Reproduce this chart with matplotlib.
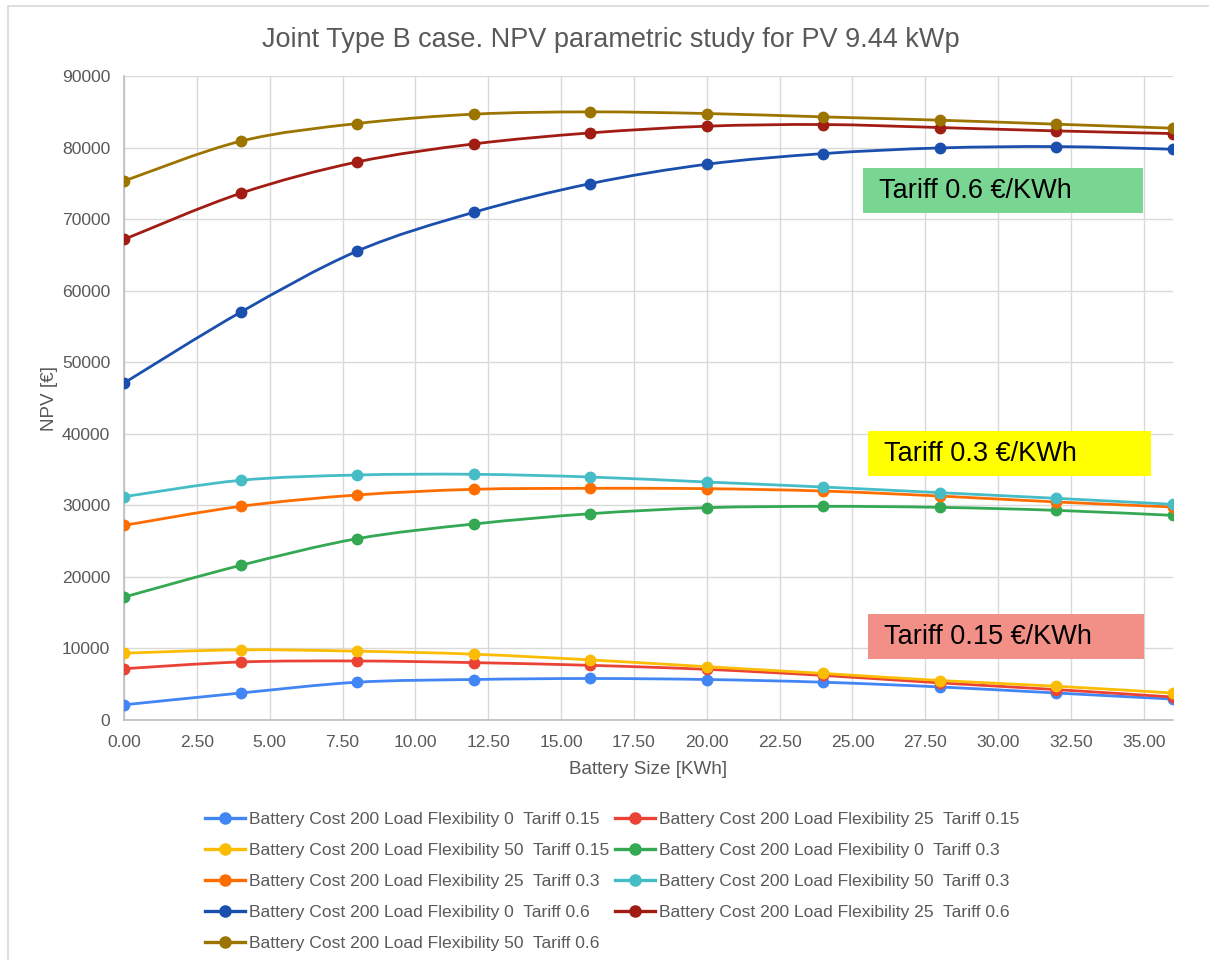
import numpy as np
import matplotlib
matplotlib.use("Agg")
from matplotlib import pyplot as plt
from matplotlib.path import Path
from matplotlib.patches import PathPatch, Rectangle
from matplotlib.lines import Line2D

plt.rcParams["font.family"] = ["Liberation Sans", "DejaVu Sans"]

battery_size = [0, 4, 8, 12, 16, 20, 24, 28, 32, 36]

npv_lf0_t015 = [2120, 3770, 5280, 5660, 5800, 5660, 5280, 4620, 3770, 2920]
npv_lf25_t015 = [7170, 8110, 8250, 8020, 7640, 7080, 6230, 5190, 4250, 3210]
npv_lf50_t015 = [9340, 9810, 9620, 9200, 8400, 7450, 6510, 5520, 4720, 3770]
npv_lf0_t03 = [17180, 21610, 25340, 27390, 28830, 29670, 29860, 29720, 29300, 28600]
npv_lf25_t03 = [27200, 29860, 31450, 32240, 32380, 32330, 32000, 31300, 30470, 29770]
npv_lf50_t03 = [31210, 33500, 34240, 34340, 33960, 33260, 32560, 31770, 30980, 30140]
npv_lf0_t06 = [47100, 56990, 65530, 70950, 74960, 77670, 79160, 79950, 80140, 79770]
npv_lf25_t06 = [67170, 73610, 77990, 80510, 82050, 82990, 83220, 82800, 82330, 81960]
npv_lf50_t06 = [75330, 80890, 83360, 84670, 84990, 84760, 84290, 83830, 83270, 82710]

series = [npv_lf0_t015, npv_lf25_t015, npv_lf50_t015,
          npv_lf0_t03, npv_lf25_t03, npv_lf50_t03,
          npv_lf0_t06, npv_lf25_t06, npv_lf50_t06]
labels = ["Battery Cost 200 Load Flexibility 0  Tariff 0.15",
          "Battery Cost 200 Load Flexibility 25  Tariff 0.15",
          "Battery Cost 200 Load Flexibility 50  Tariff 0.15",
          "Battery Cost 200 Load Flexibility 0  Tariff 0.3",
          "Battery Cost 200 Load Flexibility 25  Tariff 0.3",
          "Battery Cost 200 Load Flexibility 50  Tariff 0.3",
          "Battery Cost 200 Load Flexibility 0  Tariff 0.6",
          "Battery Cost 200 Load Flexibility 25  Tariff 0.6",
          "Battery Cost 200 Load Flexibility 50  Tariff 0.6"]
colors = ["#4285f4", "#ea4335", "#fbbc04",
          "#34a853", "#ff6d01", "#46bdc6",
          "#1a4fae", "#a11d13", "#9c7500"]

# tariff boxes: text, colour, box extent (x0, x1, y0, y1) in data units
tariff_notes = ["Tariff 0.6 €/KWh", "Tariff 0.3 €/KWh", "Tariff 0.15 €/KWh"]
note_colors = ["#79d692", "#ffff00", "#f28f87"]
note_boxes = [(25.36, 34.97, 70850, 77140),
              (25.53, 35.24, 34100, 40390),
              (25.53, 35.00, 8520, 14810)]

GRAY = "#595959"


def smooth_path(x, y):
    """Catmull-Rom curve through the points, as cubic bezier segments."""
    p = np.column_stack([x, y]).astype(float)
    ext = np.vstack([p[0], p, p[-1]])
    verts, codes = [p[0]], [Path.MOVETO]
    for i in range(len(p) - 1):
        p0, p1, p2, p3 = ext[i], ext[i + 1], ext[i + 2], ext[i + 3]
        verts += [p1 + (p2 - p0) / 6, p2 - (p3 - p1) / 6, p2]
        codes += [Path.CURVE4] * 3
    return Path(verts, codes)


fig = plt.figure(figsize=(12.09, 9.6), dpi=100)
ax = fig.add_axes([0.1026, 0.25, 0.8676, 0.6708])

handles = []
for vals, lab, col in zip(series, labels, colors):
    ax.add_patch(PathPatch(smooth_path(battery_size, vals), fill=False,
                           edgecolor=col, lw=2.0, capstyle="round", zorder=3))
    ax.plot(battery_size, vals, "o", color=col, ms=7.5, zorder=4)
    handles.append(Line2D([], [], color=col, lw=2.4, marker="o", ms=8))

ax.set_xlim(0, 36)
ax.set_ylim(0, 90000)
ax.set_xticks(np.arange(0, 36, 2.5))
ax.set_xticklabels([f"{v:.2f}" for v in np.arange(0, 36, 2.5)])
ax.set_yticks(np.arange(0, 90001, 10000))
ax.grid(True, color="#d9d9d9", lw=1.0)
ax.set_axisbelow(True)
for s in ["top", "right"]:
    ax.spines[s].set_visible(False)
for s in ["left", "bottom"]:
    ax.spines[s].set_color("#bdbdbd")
    ax.spines[s].set_linewidth(1.2)
ax.tick_params(axis="y", length=0, labelsize=12.6, colors=GRAY, pad=10)
ax.tick_params(axis="x", length=0, labelsize=12.6, colors=GRAY, pad=11)
ax.set_xlabel("Battery Size [KWh]", fontsize=13.6, color=GRAY, labelpad=8)
ax.set_ylabel("NPV [€]", fontsize=13.6, color=GRAY, labelpad=3)

for txt, col, (x0, x1, y0, y1) in zip(tariff_notes, note_colors, note_boxes):
    ax.add_patch(Rectangle((x0, y0), x1 - x0, y1 - y0, fc=col, ec="none", zorder=5))
    ax.text(x0 + 0.55, (y0 + y1) / 2, txt, fontsize=19.5, color="black",
            va="center", ha="left", zorder=6)

fig.text(0.505, 0.958, "Joint Type B case. NPV parametric study for PV 9.44 kWp",
         ha="center", va="center", fontsize=19.5, color=GRAY)

# legend is row-major in the original: reorder for matplotlib's column fill
order = [0, 2, 4, 6, 8, 1, 3, 5, 7]
fig.legend([handles[i] for i in order], [labels[i] for i in order],
           ncol=2, loc="upper left", bbox_to_anchor=(0.1635, 0.162),
           frameon=False, fontsize=12.6, labelcolor=GRAY, handlelength=2.3,
           handletextpad=0.25, columnspacing=0.3, labelspacing=0.91,
           borderaxespad=0)

fig.patches.append(Rectangle((0.0066, -0.01), 1.0, 1.0 - 0.006 + 0.01,
                             transform=fig.transFigure, fill=False,
                             ec="#d9d9d9", lw=1.2))

fig.savefig("out.png", dpi=100)
